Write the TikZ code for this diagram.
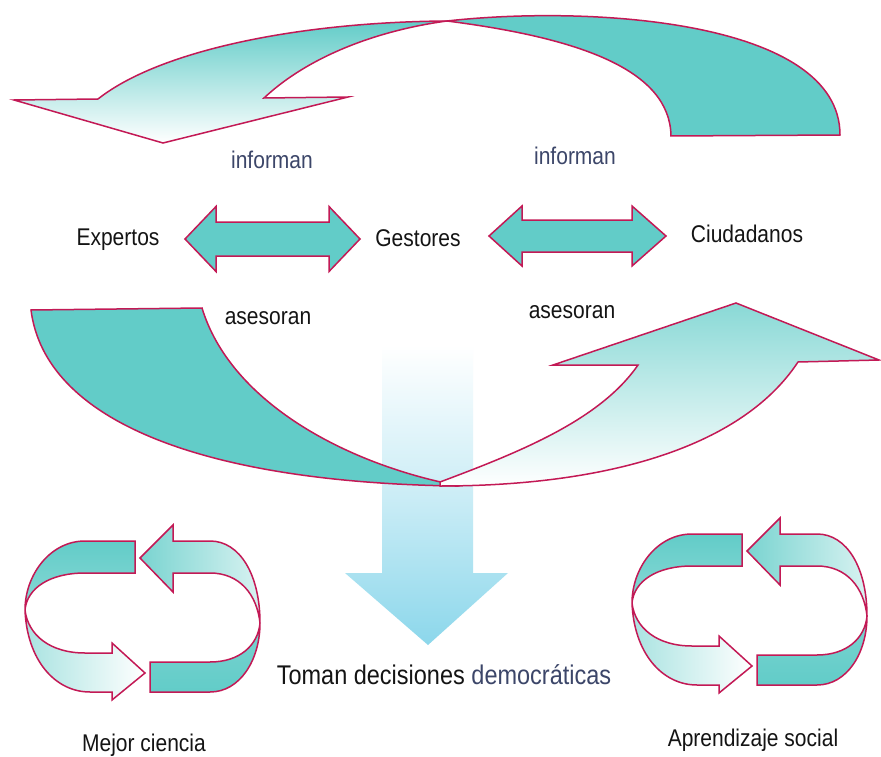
\documentclass[tikz,border=0pt]{standalone}
\usepackage{fontspec}
\setmainfont{Liberation Sans}
\definecolor{teal1}{RGB}{98,204,200}
\definecolor{skyb}{RGB}{140,215,235}
\definecolor{edgec}{RGB}{195,25,85}
\definecolor{lbl}{RGB}{20,20,20}
\definecolor{lblb}{RGB}{60,70,105}
\newcommand\cyclepair[1]{%
\begin{scope}[shift={#1}]
  % upper-left band
  \path[band, top color=teal1, bottom color=teal1!75] (135,541) -- (85,541) .. controls (50,541) and (25,575) .. (25,610) .. controls (27,588) and (50,573) .. (85,573) -- (135,573) -- cycle;
  % lower-left arrow
  \path[band, left color=teal1!55, right color=white] (25,610) .. controls (27,660) and (55,692) .. (90,692) -- (112,692) -- (112,700) -- (145,673) -- (112,643) -- (112,653) -- (85,653) .. controls (50,653) and (28,635) .. (25,610) -- cycle;
  % upper-right arrow
  \path[band, left color=teal1!85, right color=teal1!25] (140,558) -- (173,525) -- (173,541) -- (210,541) .. controls (240,541) and (260,575) .. (260,623) .. controls (257,595) and (240,573) .. (210,573) -- (173,573) -- (173,592) -- cycle;
  % lower-right band
  \path[band, top color=teal1!85, bottom color=teal1] (150,662) -- (210,662) .. controls (240,662) and (258,645) .. (260,623) .. controls (260,660) and (240,692) .. (210,692) -- (150,692) -- cycle;
\end{scope}}
\begin{document}
\begin{tikzpicture}[x=1pt,y=-1pt,
  band/.style={draw=edgec, line width=1.5pt, line join=miter},
  lab/.style={font=\fontsize{21}{24}\selectfont, text=lbl, inner sep=0pt, xscale=1.0, yscale=1.15},
  labb/.style={lab, text=lblb}]
\useasboundingbox[fill=white] (0,0) rectangle (881,757);

% central downward arrow
\path[top color=white, bottom color=skyb, middle color=skyb!45] (382,345) -- (473,345) -- (473,573) -- (508,573) -- (428,645) -- (345,573) -- (382,573) -- cycle;

% top arc arrow
\path[band, top color=teal1, bottom color=white] (98,99) .. controls (160,50) and (300,22) .. (447,21) .. controls (380,30) and (310,55) .. (264,98) -- (348,97) -- (163,143) -- (14,100) -- cycle;
\path[band, fill=teal1] (447,21) .. controls (590,5) and (840,20) .. (840,135) -- (671,136) .. controls (670,70) and (580,38) .. (447,21) -- cycle;

% bottom arc arrow
\path[band, fill=teal1] (31,310) -- (202,308) .. controls (230,400) and (340,460) .. (445,483) -- (455,486) .. controls (200,482) and (45,420) .. (31,310) -- cycle;
\path[band, top color=teal1!75, bottom color=white] (440,482) .. controls (520,452) and (600,420) .. (638,365) -- (553,365) -- (736,303) -- (879,360) -- (798,362) .. controls (740,450) and (600,486) .. (440,486) -- cycle;

% double arrows
\path[band, fill=teal1] (185,239) -- (216,206.5) -- (216,222) -- (329,222) -- (329,206.5) -- (360,239) -- (329,271.5) -- (329,256) -- (216,256) -- (216,271.5) -- cycle;
\path[band, fill=teal1] (489,236) -- (522,206) -- (522,220) -- (632,220) -- (632,206) -- (666,236) -- (632,266) -- (632,252) -- (522,252) -- (522,266) -- cycle;

% small cycles
\cyclepair{(0,0)}
\cyclepair{(607,-7)}

% labels
\node[lab] (exp) at (118,240) {Expertos};
\node[lab] (ges) at (418,238) {Gestores};
\node[lab] (ciu) at (747,234) {Ciudadanos};
\node[labb] (inf1) at (272,160) {informan};
\node[labb] (inf2) at (575,156) {informan};
\node[lab] (ase1) at (268,318) {asesoran};
\node[lab] (ase2) at (572,312) {asesoran};
\node[lab, font=\fontsize{23.5}{26}\selectfont] (tom) at (444,675) {Toman decisiones \textcolor{lblb}{democráticas}};
\node[lab] (mej) at (144,745) {Mejor ciencia};
\node[lab] (apr) at (753,740) {Aprendizaje social};
\end{tikzpicture}
\end{document}
